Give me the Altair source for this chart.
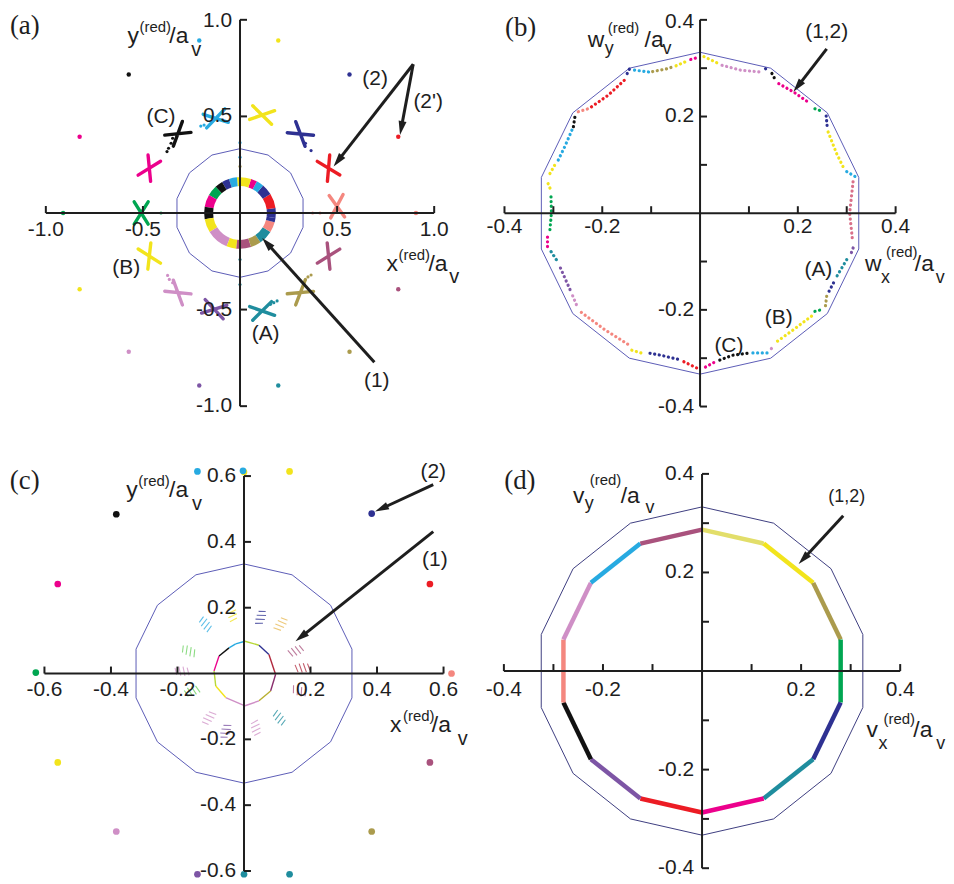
import math
import altair as alt
import pandas as pd

FONT = "Liberation Sans"
SERIF = "Liberation Serif"
INK = "#1e1e1e"
POLY_COLOR = "#5c5cb6"
POLY_COLOR_D = "#3d3d80"

PAL = {
    "salmon": "#f4877f", "red": "#ec1c24", "navy": "#2e3192", "yellow": "#f2e41c",
    "sky": "#27aae1", "black": "#111111", "magenta": "#ec008c", "green": "#00a651",
    "plum": "#cf8fc6", "purple": "#7d55a5", "teal": "#1f8d9e", "olive": "#ab9b4d",
    "mauve": "#a9527d", "lyellow": "#e2de6a", "smauve": "#d9708a",
    "ygreen": "#b8d838", "dred": "#b0283c", "dmauve": "#8a2f6e", "dolive": "#b8b030",
    "lgreen": "#66d05a", "orange": "#e8b850",
}

# ---------------- data ----------------
# 14-gon drawn in every panel
POLY_X = [0.0, 0.1445, 0.2603, 0.3246, 0.3246, 0.2603, 0.1445, 0.0,
          -0.1445, -0.2603, -0.3246, -0.3246, -0.2603, -0.1445, 0.0]
POLY_Y = [0.333, 0.300, 0.2076, 0.0741, -0.0741, -0.2076, -0.300, -0.333,
          -0.300, -0.2076, -0.0741, 0.0741, 0.2076, 0.300, 0.333]

# panel (a)
A_TICKS = [-1.0, -0.5, 0.5, 1.0]
A_TICK_LABELS = ["-1.0", "-0.5", "0.5", "1.0"]
A_CROSS_X = [0.499, 0.456, 0.311, 0.114, -0.125, -0.320, -0.467, -0.509, -0.467, -0.320, -0.133, 0.114, 0.311, 0.456]
A_CROSS_Y = [0.035, 0.232, 0.409, 0.507, 0.490, 0.410, 0.232, 0.000, -0.223, -0.412, -0.498, -0.507, -0.412, -0.223]
A_CROSS_C = ["salmon", "red", "navy", "yellow", "sky", "black", "magenta", "green",
             "yellow", "plum", "purple", "teal", "olive", "mauve"]
A_OUTER_X = [0.906, 0.815, 0.564, 0.197, -0.210, -0.573, -0.826, -0.911, -0.826, -0.573, -0.210, 0.197, 0.564, 0.815]
A_OUTER_Y = [0.0, 0.395, 0.717, 0.893, 0.893, 0.717, 0.395, 0.0, -0.395, -0.718, -0.893, -0.893, -0.718, -0.395]
A_OUTER_C = ["salmon", "red", "navy", "yellow", "sky", "black", "magenta", "green",
             "yellow", "plum", "purple", "teal", "olive", "mauve"]
A_DOT_X = [0.0, 0.0, 0.0, 0.0, 0.0, -0.407, 0.374, 0.412,
           -0.347, -0.355, -0.368, -0.376, 0.337, 0.366, -0.373, -0.364, -0.347,
           0.337, 0.350, 0.366, 0.157, 0.174, 0.191, -0.202, -0.185]
A_DOT_Y = [0.364, 0.289, 0.241, -0.241, -0.370, 0.0, 0.0, 0.0,
           0.387, 0.361, 0.335, 0.318, 0.361, 0.323, -0.323, -0.344, -0.361,
           -0.344, -0.331, -0.321, -0.473, -0.464, -0.455, 0.450, 0.455]
A_DOT_C = ["sky", "sky", "olive", "teal", "teal", "green", "salmon", "salmon",
           "black", "black", "black", "black", "navy", "navy", "plum", "plum", "plum",
           "olive", "olive", "olive", "teal", "teal", "teal", "sky", "sky"]
RING_FROM = [-8, 8, 32, 50, 62, 72, 95, 108, 120, 133, 150, 170, 190, 212, 248, 264, 288, 305, 328, 345]
RING_TO = [8, 32, 50, 62, 72, 95, 108, 120, 133, 150, 170, 190, 212, 248, 264, 288, 305, 328, 345, 352]
RING_C = ["navy", "red", "navy", "sky", "magenta", "yellow", "sky", "navy", "black", "green",
          "magenta", "black", "yellow", "plum", "yellow", "mauve", "olive", "teal", "salmon", "navy"]

# panel (b)
B_TICKS = [-0.4, -0.3, -0.2, -0.1, 0.1, 0.2, 0.3, 0.4]
B_LABEL_AT = [-0.4, -0.2, 0.2, 0.4]
B_LABELS = ["-0.4", "-0.2", "0.2", "0.4"]
B_RUN_X = [
    [0.008, 0.039], [0.045, 0.083, 0.123], [0.134, 0.140], [0.147, 0.154],
    [0.161, 0.191, 0.225], [0.235, 0.252], [0.258, 0.260], [0.262, 0.279, 0.296],
    [0.300, 0.317], [0.313, 0.306, 0.312], [0.313, 0.308], [0.300, 0.276],
    [0.273, 0.262], [0.259, 0.256], [0.235, 0.252], [0.228, 0.191, 0.154],
    [0.146, 0.142], [0.137, 0.106], [0.096, 0.066, 0.035], [0.028, 0.008],
    [-0.007, -0.036], [-0.046, -0.080, -0.107], [-0.121, -0.141], [-0.148, -0.195, -0.243],
    [-0.253, -0.263], [-0.266, -0.287], [-0.294, -0.307], [-0.312, -0.312],
    [-0.307, -0.304, -0.305], [-0.307, -0.314], [-0.307, -0.297], [-0.290, -0.277, -0.262],
    [-0.259, -0.256], [-0.249, -0.229], [-0.222, -0.188, -0.155], [-0.149, -0.144],
    [-0.134, -0.104], [-0.097, -0.066, -0.053], [-0.049, -0.026], [-0.019, -0.009],
]
B_RUN_Y = [
    [0.324, 0.309], [0.306, 0.296, 0.292], [0.299, 0.292], [0.289, 0.276],
    [0.268, 0.251, 0.227], [0.216, 0.210], [0.201, 0.179], [0.168, 0.124, 0.089],
    [0.086, 0.076], [0.065, 0.0, -0.058], [-0.072, -0.086], [-0.096, -0.137],
    [-0.144, -0.165], [-0.172, -0.196], [-0.203, -0.199], [-0.213, -0.241, -0.268],
    [-0.280, -0.286], [-0.289, -0.289], [-0.290, -0.294, -0.306], [-0.309, -0.320],
    [-0.320, -0.306], [-0.302, -0.294, -0.289], [-0.289, -0.283], [-0.271, -0.241, -0.205],
    [-0.189, -0.165], [-0.158, -0.110], [-0.096, -0.076], [-0.069, -0.048],
    [-0.034, 0.0, 0.041], [0.052, 0.069], [0.082, 0.100], [0.110, 0.137, 0.172],
    [0.179, 0.199], [0.210, 0.216], [0.220, 0.244, 0.275], [0.289, 0.299],
    [0.296, 0.292], [0.293, 0.299, 0.304], [0.305, 0.315], [0.318, 0.321],
]
B_RUN_C = ["yellow", "plum", "navy", "black", "magenta", "green", "navy", "yellow",
           "sky", "smauve", "purple", "teal", "navy", "olive", "green", "yellow",
           "plum", "sky", "black", "magenta", "red", "navy", "yellow", "salmon",
           "plum", "purple", "teal", "magenta", "green", "yellow", "yellow", "sky",
           "black", "salmon", "red", "navy", "sky", "olive", "yellow", "magenta"]

# panel (c)
C_TICKS = [-0.6, -0.4, -0.2, 0.2, 0.4, 0.6]
C_LABELS = ["-0.6", "-0.4", "-0.2", "0.2", "0.4", "0.6"]
C_OUTER_X = [0.624, 0.559, 0.384, 0.137, 0.0, -0.003, -0.140, -0.384, -0.560, -0.626,
             -0.560, -0.384, -0.140, 0.0, 0.137, 0.384, 0.559]
C_OUTER_Y = [0.0, 0.272, 0.486, 0.614, 0.612, 0.616, 0.614, 0.484, 0.272, 0.003,
             -0.270, -0.480, -0.610, -0.610, -0.610, -0.480, -0.270]
C_OUTER_C = ["salmon", "red", "navy", "yellow", "yellow", "sky", "sky", "black", "magenta", "green",
             "yellow", "plum", "purple", "teal", "teal", "olive", "mauve"]
C_LOOP_X = [-0.025, 0.003, 0.045, 0.075, 0.095, 0.080, 0.045, 0.003, -0.055, -0.085, -0.090, -0.075, -0.045, -0.025]
C_LOOP_Y = [0.090, 0.098, 0.086, 0.058, -0.003, -0.053, -0.083, -0.098, -0.073, -0.038, 0.008, 0.053, 0.078, 0.090]
C_LOOP_C = ["sky", "ygreen", "navy", "dred", "dmauve", "dolive", "plum", "plum",
            "yellow", "ygreen", "magenta", "black", "sky"]
C_FEATHER_X = [-0.035, -0.115, 0.050, 0.110, -0.165, 0.155, -0.185, 0.175, -0.155, 0.165, -0.105, 0.105, -0.055, 0.035]
C_FEATHER_Y = [0.180, 0.149, 0.169, 0.149, 0.068, 0.068, 0.007, 0.017, -0.053, -0.053, -0.134, -0.134, -0.174, -0.164]
C_FEATHER_C = ["yellow", "sky", "navy", "orange", "lgreen", "mauve", "plum", "dred",
               "lgreen", "mauve", "plum", "teal", "purple", "plum"]

# panel (d)
D_TICKS = [-0.4, -0.3, -0.2, -0.1, 0.1, 0.2, 0.3, 0.4]
D_LABEL_AT = [-0.4, -0.2, 0.2, 0.4]
D_LABELS = ["-0.4", "-0.2", "0.2", "0.4"]
D_X = [0.0, 0.1245, 0.2244, 0.2798, 0.2798, 0.2244, 0.1245, 0.0,
       -0.1245, -0.2244, -0.2798, -0.2798, -0.2244, -0.1245, 0.0]
D_Y = [0.287, 0.2586, 0.1789, 0.0639, -0.0639, -0.1789, -0.2586, -0.287,
       -0.2586, -0.1789, -0.0639, 0.0639, 0.1789, 0.2586, 0.287]
D_C = ["lyellow", "yellow", "olive", "green", "navy", "teal", "magenta", "red",
       "purple", "black", "salmon", "plum", "sky", "mauve"]


# ---------------- helpers ----------------
class Panel:
    def __init__(self, ox, oy, sx, sy, left, top, w, h):
        self.sx, self.sy, self.w, self.h = sx, sy, w, h
        self.xs = alt.Scale(domain=[(left - ox) / sx, (left + w - ox) / sx], nice=False, zero=False)
        self.ys = alt.Scale(domain=[(oy - top - h) / sy, (oy - top) / sy], nice=False, zero=False)
        self.layers = []

    def X(self, f="x"):
        return alt.X(f, type="quantitative", scale=self.xs, axis=None)

    def Y(self, f="y"):
        return alt.Y(f, type="quantitative", scale=self.ys, axis=None)

    def add(self, c):
        self.layers.append(c)

    def chart(self):
        return alt.layer(*self.layers).properties(width=self.w, height=self.h)


def col(names):
    return [PAL[n] for n in names]


def draw_axes(p, ext, ticks, lab_at, labels, xdy, ydx, top_dy=0.0, fs=21):
    p.add(alt.Chart(pd.DataFrame({"x": [-ext, 0.0], "y": [0.0, -ext], "x2": [ext, 0.0], "y2": [0.0, ext]}))
          .mark_rule(color=INK, strokeWidth=2)
          .encode(x=p.X("x"), y=p.Y("y"), x2="x2", y2="y2"))
    z = [0.0] * len(ticks)
    p.add(alt.Chart(pd.DataFrame({"x": ticks, "y": z})).mark_rule(color=INK, strokeWidth=2, y2Offset=-7)
          .encode(x=p.X("x"), y=p.Y("y"), y2="y"))
    p.add(alt.Chart(pd.DataFrame({"x": z, "y": ticks})).mark_rule(color=INK, strokeWidth=2, x2Offset=7)
          .encode(x=p.X("x"), x2="x", y=p.Y("y")))
    zl = [0.0] * len(lab_at)
    p.add(alt.Chart(pd.DataFrame({"x": lab_at, "y": zl, "t": labels}))
          .mark_text(font=FONT, fontSize=fs, color=INK, align="center", baseline="alphabetic", dy=xdy)
          .encode(x=p.X("x"), y=p.Y("y"), text="t:N"))
    top_v = max(lab_at)
    rest = [(v, t) for v, t in zip(lab_at, labels) if v != top_v]
    p.add(alt.Chart(pd.DataFrame({"x": [0.0] * len(rest), "y": [v for v, _ in rest], "t": [t for _, t in rest]}))
          .mark_text(font=FONT, fontSize=fs, color=INK, align="right", baseline="middle", dx=ydx)
          .encode(x=p.X("x"), y=p.Y("y"), text="t:N"))
    top_t = labels[lab_at.index(top_v)]
    p.add(alt.Chart(pd.DataFrame({"x": [0.0], "y": [top_v], "t": [top_t]}))
          .mark_text(font=FONT, fontSize=fs, color=INK, align="right", baseline="middle", dx=ydx, dy=top_dy)
          .encode(x=p.X("x"), y=p.Y("y"), text="t:N"))


def rich(p, x, y, parts):
    for t, dx, dy, s in parts:
        p.add(alt.Chart(pd.DataFrame({"x": [x], "y": [y], "t": [t]}))
              .mark_text(font=FONT, fontSize=s, color=INK, align="left", baseline="alphabetic",
                         dx=dx, dy=dy)
              .encode(x=p.X("x"), y=p.Y("y"), text="t:N"))


def label(p, x, y, t, size=21, font=FONT, align="center", baseline="middle"):
    p.add(alt.Chart(pd.DataFrame({"x": [x], "y": [y], "t": [t]}))
          .mark_text(font=font, fontSize=size, color=INK, align=align, baseline=baseline)
          .encode(x=p.X("x"), y=p.Y("y"), text="t:N"))


def polygon(p, xs, ys, color, width=1.0):
    df = pd.DataFrame({"x": xs, "y": ys, "i": list(range(len(xs)))})
    p.add(alt.Chart(df).mark_line(color=color, strokeWidth=width)
          .encode(x=p.X("x"), y=p.Y("y"), order="i:Q"))


def runs(p, xs_list, ys_list, colors, **mk):
    rows = []
    for k, (xs, ys) in enumerate(zip(xs_list, ys_list)):
        for i, (x, y) in enumerate(zip(xs, ys)):
            rows.append({"x": x, "y": y, "r": k, "i": i, "c": PAL[colors[k]]})
    p.add(alt.Chart(pd.DataFrame(rows)).mark_line(**mk)
          .encode(x=p.X("x"), y=p.Y("y"), detail="r:N", order="i:Q",
                  color=alt.Color("c:N", scale=None)))


def chain(p, xs, ys, colors, **mk):
    xl = [[xs[k], xs[k + 1]] for k in range(len(colors))]
    yl = [[ys[k], ys[k + 1]] for k in range(len(colors))]
    runs(p, xl, yl, colors, **mk)


def dots(p, xs, ys, colors, size, **mk):
    df = pd.DataFrame({"x": xs, "y": ys, "c": col(colors)})
    p.add(alt.Chart(df).mark_point(filled=True, size=size, opacity=1, **mk)
          .encode(x=p.X("x"), y=p.Y("y"), color=alt.Color("c:N", scale=None)))


HEAD = "M 0 -1 L 0.5 0.75 L -0.5 0.75 Z"


def arrow(p, x1, y1, x2, y2, head=8, width=3):
    dxp, dyp = (x2 - x1) * p.sx, -(y2 - y1) * p.sy
    n = math.hypot(dxp, dyp)
    ux, uy = dxp / n, dyp / n
    hx, hy = x2 - ux * head / p.sx, y2 + uy * head / p.sy
    ang = math.degrees(math.atan2(ux, -uy)) % 360
    p.add(alt.Chart(pd.DataFrame({"x": [x1], "y": [y1], "x2": [hx], "y2": [hy]}))
          .mark_rule(color=INK, strokeWidth=width)
          .encode(x=p.X("x"), y=p.Y("y"), x2="x2", y2="y2"))
    p.add(alt.Chart(pd.DataFrame({"x": [hx], "y": [hy], "a": [ang]}))
          .mark_point(shape=HEAD, filled=True, size=(2 * head) ** 2, color=INK, opacity=1, strokeWidth=0)
          .encode(x=p.X("x"), y=p.Y("y"), angle=alt.Angle("a:Q", scale=None)))


XPATH = "M -0.53 -0.85 L 0.53 0.85 M 0.53 -0.85 L -0.53 0.85"
FEATHER = "M -0.9 -0.5 L -0.6 0.5 M -0.35 -0.6 L -0.05 0.6 M 0.2 -0.6 L 0.5 0.6 M 0.75 -0.5 L 1 0.4"


def tangent_angles(xs, ys):
    return [(-math.degrees(math.atan2(y, x))) % 360 for x, y in zip(xs, ys)]


# ---------------- panel (a) ----------------
A = Panel(241, 210, 195, 194, 8, 8, 469, 432)
polygon(A, POLY_X, POLY_Y, POLY_COLOR, 1.0)
ring = pd.DataFrame({
    "x": [0.0] * len(RING_FROM), "y": [0.0] * len(RING_FROM),
    "t1": [math.radians((90 - b) % 360) for b in RING_TO],
    "t2": [math.radians((90 - b) % 360 + (b - a)) for a, b in zip(RING_FROM, RING_TO)],
    "c": col(RING_C),
})
A.add(alt.Chart(ring).mark_arc(radius=36, radius2=27)
      .encode(x=A.X("x"), y=A.Y("y"), theta=alt.Theta("t1:Q", scale=None, stack=None),
              theta2=alt.Theta2("t2"), color=alt.Color("c:N", scale=None)))
crosses = pd.DataFrame({"x": A_CROSS_X, "y": A_CROSS_Y, "c": col(A_CROSS_C),
                        "a": tangent_angles(A_CROSS_X, A_CROSS_Y)})
A.add(alt.Chart(crosses).mark_point(shape=XPATH, filled=False, size=700, strokeWidth=3.4,
                                    strokeCap="round", opacity=1)
      .encode(x=A.X("x"), y=A.Y("y"), color=alt.Color("c:N", scale=None),
              angle=alt.Angle("a:Q", scale=None)))
dots(A, A_OUTER_X, A_OUTER_Y, A_OUTER_C, 20)
dots(A, A_DOT_X, A_DOT_Y, A_DOT_C, 10)
draw_axes(A, 1.0, A_TICKS, A_TICKS, A_TICK_LABELS, 23, -8, top_dy=1.5)
arrow(A, 0.692, -0.773, 0.114, -0.129)
arrow(A, 0.892, 0.770, 0.482, 0.241)
arrow(A, 0.892, 0.770, 0.824, 0.404)
rich(A, -0.5795, 0.880, [("y", 0, 0, 23), ("(red)", 12, -11, 15), ("/a", 42, 0, 23), ("v", 64, 13, 20)])
rich(A, 0.755, -0.3005, [("x", 0, 0, 23), ("(red)", 12, -11, 15), ("/a", 42, 0, 23), ("v", 63, 12, 20)])
label(A, -1.185, 0.928, "(a)", size=27, font=SERIF, align="left", baseline="alphabetic")
label(A, -0.407, 0.498, "(C)")
label(A, -0.586, -0.284, "(B)")
label(A, 0.132, -0.627, "(A)")
label(A, 0.704, -0.868, "(1)")
label(A, 0.696, 0.696, "(2)")
label(A, 0.969, 0.576, "(2')")

# ---------------- panel (b) ----------------
B = Panel(703, 210.2, 491, 485.4, 477, 8, 469, 432)
polygon(B, POLY_X, POLY_Y, POLY_COLOR, 1.0)
runs(B, B_RUN_X, B_RUN_Y, B_RUN_C, strokeWidth=3.2, strokeDash=[0.1, 4.6], strokeCap="round")
draw_axes(B, 0.4, B_TICKS, B_LABEL_AT, B_LABELS, 20, -6, top_dy=2.5)
arrow(B, 0.259, 0.340, 0.191, 0.251)
rich(B, -0.2295, 0.344, [("w", 0, 0, 23), ("y", 17, 7, 18), ("(red)", 20, -14, 15), ("/a", 57, 0, 23), ("v", 75, 7, 18)])
rich(B, 0.3375, -0.1197, [("w", 0, 0, 23), ("x", 16, 12, 18), ("(red)", 21, -14, 15), ("/a", 50, 0, 23), ("v", 71, 12, 18)])
label(B, -0.399, 0.366, "(b)", size=27, font=SERIF, align="left", baseline="alphabetic")
label(B, 0.259, 0.375, "(1,2)")
label(B, 0.242, -0.117, "(A)")
label(B, 0.161, -0.216, "(B)")
label(B, 0.059, -0.274, "(C)")

# ---------------- panel (c) ----------------
C = Panel(245, 672.5, 334, 330.5, 8, 440, 469, 436)
polygon(C, POLY_X, POLY_Y, POLY_COLOR, 1.0)
chain(C, C_LOOP_X, C_LOOP_Y, C_LOOP_C, strokeWidth=1.4)
feathers = pd.DataFrame({"x": C_FEATHER_X, "y": C_FEATHER_Y, "c": col(C_FEATHER_C),
                         "a": tangent_angles(C_FEATHER_X, C_FEATHER_Y)})
C.add(alt.Chart(feathers).mark_point(shape=FEATHER, filled=False, size=230, strokeWidth=1.1, opacity=0.75)
      .encode(x=C.X("x"), y=C.Y("y"), color=alt.Color("c:N", scale=None),
              angle=alt.Angle("a:Q", scale=None)))
dots(C, C_OUTER_X, C_OUTER_Y, C_OUTER_C, 45)
draw_axes(C, 0.6, C_TICKS, C_TICKS, C_LABELS, 23, -8)
arrow(C, 0.569, 0.574, 0.394, 0.492)
arrow(C, 0.569, 0.431, 0.155, 0.098)
rich(C, -0.354, 0.536, [("y", 0, 0, 23), ("(red)", 12, -11, 15), ("/a", 43, 0, 23), ("v", 66, 13, 20)])
rich(C, 0.439, -0.179, [("x", 0, 0, 23), ("(red)", 13, -11, 15), ("/a", 42, 0, 23), ("v", 68, 13, 20)])
label(C, -0.704, 0.562, "(c)", size=27, font=SERIF, align="left", baseline="alphabetic")
label(C, 0.569, 0.613, "(2)")
label(C, 0.574, 0.346, "(1)")

# ---------------- panel (d) ----------------
D = Panel(705, 670, 497.5, 495, 477, 440, 469, 436)
polygon(D, POLY_X, POLY_Y, POLY_COLOR_D, 1.0)
chain(D, D_X, D_Y, D_C, strokeWidth=4.5)
draw_axes(D, 0.4, D_TICKS, D_LABEL_AT, D_LABELS, 25, -8)
arrow(D, 0.285, 0.315, 0.195, 0.217)
rich(D, -0.2607, 0.340, [("v", 0, 0, 23), ("y", 12, 6, 18), ("(red)", 17, -19, 15), ("/a", 48, 0, 23), ("v", 73, 10, 18)])
rich(D, 0.332, -0.1347, [("v", 0, 0, 23), ("x", 12, 12, 18), ("(red)", 17, -13, 15), ("/a", 47, 0, 23), ("v", 70, 12, 18)])
label(D, -0.3994, 0.370, "(d)", size=27, font=SERIF, align="left", baseline="alphabetic")
label(D, 0.292, 0.354, "(1,2)", size=18)

top = alt.hconcat(A.chart(), B.chart(), spacing=0)
bottom = alt.hconcat(C.chart(), D.chart(), spacing=0)
chart = (alt.vconcat(top, bottom, spacing=0)
         .properties(padding=0)
         .configure_view(stroke=None)
         .configure_concat(spacing=0))

chart.save("out.html", embed_options={"renderer": "svg", "actions": False})
